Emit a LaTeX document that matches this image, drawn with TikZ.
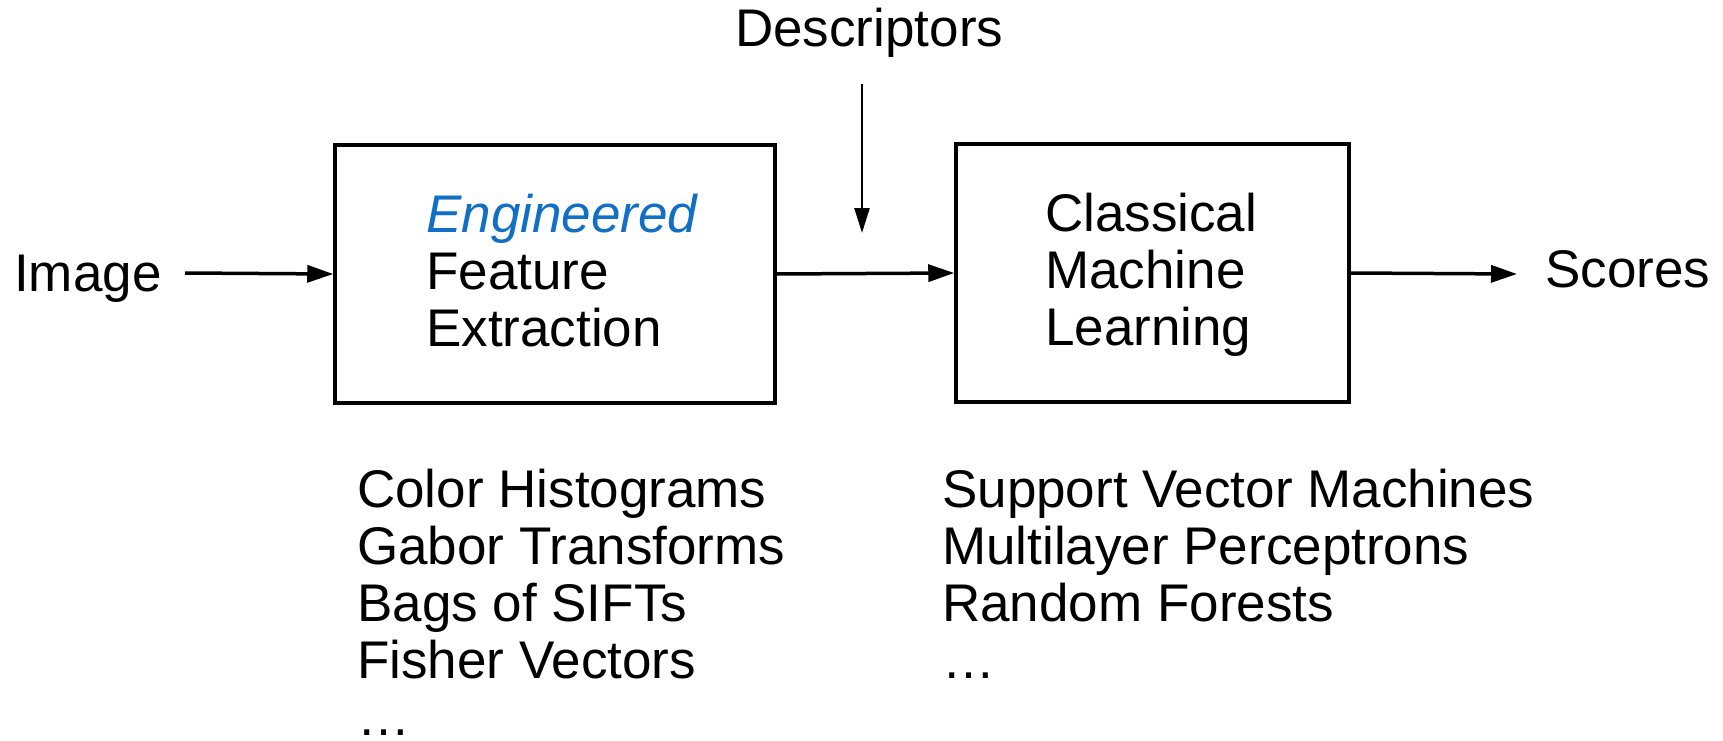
\documentclass[tikz,border=0pt]{standalone}
\usepackage{fontspec}
\setmainfont{Liberation Sans}
\usetikzlibrary{arrows.meta}
\definecolor{engblue}{RGB}{17,111,198}
\tikzset{
  txt/.style={anchor=base west, inner sep=0pt, align=left, font=\fontsize{53}{57}\selectfont},
  blockbox/.style={draw, line width=3.5pt, rectangle, inner sep=0pt},
  conn/.style={line width=3.5pt, -{Triangle[length=26pt,width=17pt]}},
  vconn/.style={line width=2.5pt, -{Triangle[length=25pt,width=15pt]}}
}
\begin{document}
\begin{tikzpicture}[x=1pt,y=-1pt]
\useasboundingbox (0,0) rectangle (1723,741);
% boxes
\node[blockbox, minimum width=440pt, minimum height=258pt] (fe) at (555,274) {};
\node[blockbox, minimum width=393pt, minimum height=258pt] (ml) at (1152.5,273) {};
% texts (base anchor = baseline of last line)
\node[txt] (img) at (14,291) {Image};
\node[txt] (sc) at (1545,287) {Scores};
\node[txt] (desc) at (735,47) {Descriptors};
\node[txt] (fetext) at (426,346) {\textcolor{engblue}{\itshape Engineered}\\Feature\\Extraction};
\node[txt] (mltext) at (1045,345) {Classical\\Machine\\Learning};
\node[txt] (felist) at (357,735) {Color Histograms\\Gabor Transforms\\Bags of SIFTs\\Fisher Vectors\\\dots};
\node[txt] (mllist) at (942,678) {Support Vector Machines\\Multilayer Perceptrons\\Random Forests\\\dots};
% connectors
\coordinate (imgend) at (185,273);
\coordinate (scend) at (1517,274);
\coordinate (dtop) at (862,84);
\coordinate (dtip) at (862,233);
\draw[conn] (imgend) -- (fe.west);
\draw[conn] (fe.east) -- (ml.west);
\draw[conn] (ml.east) -- (scend);
\draw[vconn] (dtop) -- (dtip);
\end{tikzpicture}
\end{document}
